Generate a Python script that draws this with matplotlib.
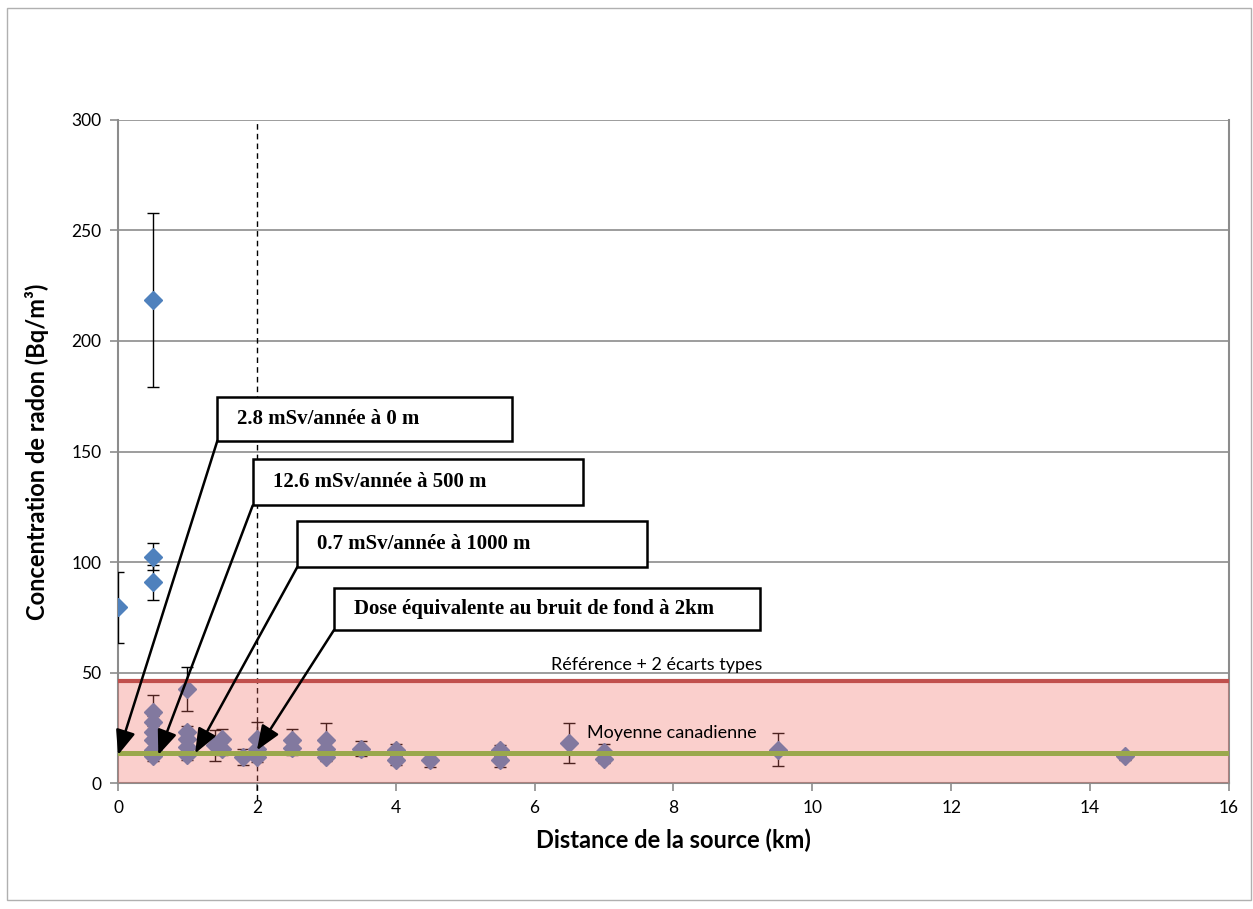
import matplotlib.pyplot as plt
from matplotlib.patches import Rectangle

# Mesures de radon : distance (km), concentration (Bq/m3), ecart (Bq/m3)
distance = [0, 0.5, 0.5, 0.5, 0.5, 0.5, 0.5, 0.5, 0.5, 0.5,
            1, 1, 1, 1, 1, 1.4, 1.5, 1.5, 1.8, 2, 2, 2,
            2.5, 2.5, 3, 3, 3, 3.5, 4, 4, 4.5, 5.5, 5.5, 6.5, 7, 7, 9.5, 14.5]
concentration = [79.5, 218.6, 102.4, 90.8, 32, 27.5, 23, 19.5, 15, 12,
                 42.7, 23, 20, 16.3, 12.5, 17, 20, 15.5, 11.8, 20, 15.5, 11.8,
                 19.3, 15.8, 19.6, 15.5, 11.8, 15.5, 14.8, 10.3, 10.6, 14.8, 10.6, 18.1, 14, 11, 15, 12]
ecart = [16, 39.3, 6, 8, 8, 3, 3, 3, 3, 2,
         10, 3, 3, 3, 2, 7, 4.5, 3, 3.5, 7.5, 4, 2.5,
         5, 3, 7.5, 3, 2, 3.5, 3, 2, 3.5, 2.5, 3.5, 9, 3.5, 2, 7.5, 1.5]

reference_2sd = 46
moyenne_canadienne = 13.5

# annotations : texte, boite (x0, y0, x1, y1) en donnees, pointe de fleche
annot_textes = ["2.8 mSv/année à 0 m", "12.6 mSv/année à 500 m",
                "0.7 mSv/année à 1000 m", "Dose équivalente au bruit de fond à 2km"]
annot_boites = [(1.43, 154.8, 5.67, 174.8), (1.94, 125.6, 6.70, 146.4),
                (2.58, 97.6, 7.62, 118.7), (3.11, 69.2, 9.24, 88.1)]
annot_pointes = [(0.0, 12.7), (0.58, 12.7), (1.11, 13.4), (2.0, 14.8)]

plt.rcParams['font.family'] = ['Lato', 'DejaVu Sans']

fig = plt.figure(figsize=(12.53, 9.09), dpi=100)
ax = fig.add_axes([0.0942, 0.1386, 0.8866, 0.7294])

# cadre du graphique
fig.patches.append(Rectangle((0.0056, 0.0099), 0.9930, 0.9813, transform=fig.transFigure,
                             fill=False, edgecolor='#b0b0b0', linewidth=1))

ax.errorbar(distance, concentration, yerr=ecart, fmt='D', color='#4f81bd',
            markersize=9, ecolor='black', elinewidth=1, capsize=4, capthick=1, zorder=3)

# zone de reference (rose, semi-transparente par-dessus les points)
ax.axhspan(0, reference_2sd, facecolor='#f06a62', alpha=0.32, edgecolor='none', zorder=4)
ax.axhline(reference_2sd, color='#c0504d', linewidth=3, zorder=5)
ax.axhline(moyenne_canadienne, color='#9aa84c', linewidth=3.6, zorder=5)

ax.text(7.76, 53.5, "Référence + 2 écarts types", ha='center', va='center', fontsize=13, zorder=6)
ax.text(6.75, 22.6, "Moyenne canadienne", ha='left', va='center', fontsize=13, zorder=6)

ax.axvline(2, ymin=-0.025, ymax=1, color='black', linestyle=(0, (4, 3)), linewidth=1,
           clip_on=False, zorder=2)

for texte, (x0, y0, x1, y1), pointe in zip(annot_textes, annot_boites, annot_pointes):
    ax.add_patch(Rectangle((x0, y0), x1 - x0, y1 - y0, facecolor='white',
                           edgecolor='black', linewidth=1.8, zorder=7))
    ax.text(x0 + 0.29, (y0 + y1) / 2, texte, ha='left', va='center', fontsize=15,
            fontweight='bold', family=['Liberation Serif', 'DejaVu Serif'], zorder=8)
    ax.annotate("", xy=pointe, xytext=(x0, y0),
                arrowprops=dict(arrowstyle='-|>,head_length=1.5,head_width=0.6',
                                color='black', lw=1.8, shrinkA=0, shrinkB=0),
                zorder=8)

ax.set_xlim(0, 16)
ax.set_ylim(0, 300)
ax.set_xticks(range(0, 17, 2))
ax.set_yticks(range(0, 301, 50))
ax.grid(axis='y', color='#8c8c8c', linewidth=1.2)
ax.set_axisbelow(True)
for side in ['left', 'bottom', 'right']:
    ax.spines[side].set_color('#8c8c8c')
    ax.spines[side].set_linewidth(1.5)
ax.spines['top'].set_visible(False)
ax.tick_params(direction='out', length=6, color='#8c8c8c', width=1.2, labelsize=12.5, pad=6)
ax.tick_params(axis='y', right=False)

ax.set_xlabel("Distance de la source (km)", fontsize=17, fontweight='bold', labelpad=9)
ax.set_ylabel("Concentration de radon (Bq/m³)", fontsize=17, fontweight='bold', labelpad=16)

fig.savefig("out.png", dpi=100)
